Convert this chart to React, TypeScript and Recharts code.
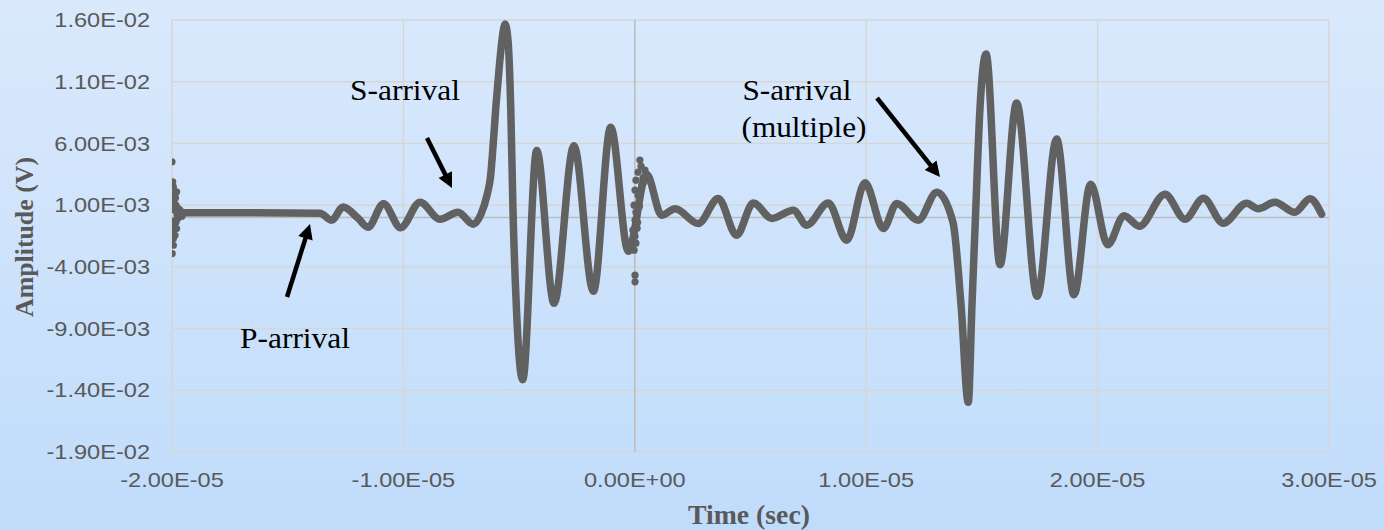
import React from 'react';
import { ComposedChart, Line, Scatter, XAxis, YAxis, CartesianGrid, ReferenceLine } from 'recharts';

// Main waveform (time in seconds, amplitude in volts)
const waveTime = [
  -19.7e-6, -16.63e-6, -13.6e-6, -13.1e-6, -12.61e-6, -11.96e-6, -11.53e-6, -10.86e-6, -10.12e-6, -9.28e-6,
  -8.42e-6, -7.64e-6, -6.99e-6, -6.646e-6, -6.387e-6, -6.236e-6, -6.106e-6, -5.998e-6, -5.869e-6, -5.739e-6,
  -5.61e-6, -5.48e-6, -5.359e-6, -5.264e-6, -5.112e-6, -4.844e-6, -4.24e-6, -3.49e-6, -2.63e-6, -1.79e-6,
  -1.04e-6, -0.28e-6, 0.51e-6, 1.16e-6, 1.74e-6, 2.74e-6, 3.61e-6, 4.4e-6, 5.12e-6, 5.92e-6,
  6.85e-6, 7.43e-6, 8.36e-6, 9.16e-6, 9.95e-6, 10.74e-6, 11.32e-6, 12.25e-6, 13.05e-6, 13.75e-6,
  14.1e-6, 14.41e-6, 14.57e-6, 14.74e-6, 14.92e-6, 15.18e-6, 15.78e-6, 16.5e-6, 17.39e-6, 18.23e-6,
  18.98e-6, 19.7e-6, 20.44e-6, 21.14e-6, 21.8e-6, 22.91e-6, 23.78e-6, 24.57e-6, 25.43e-6, 26.44e-6,
  26.94e-6, 27.66e-6, 28.52e-6, 29.18e-6, 29.68e-6,
];
const waveAmp = [
  0.39e-3, 0.39e-3, 0.35e-3, -0.22e-3, 0.84e-3, -0.06e-3, -0.79e-3, 1.12e-3, -0.83e-3, 1.24e-3,
  -0.14e-3, 0.43e-3, -0.54e-3, 0.27e-3, 1.81e-3, 3.29e-3, 6.27e-3, 9.11e-3, 11.94e-3, 14.38e-3,
  15.68e-3, 14.38e-3, 8.7e-3, 0.59e-3, -7.52e-3, -13.15e-3, 5.42e-3, -6.95e-3, 5.82e-3, -5.98e-3,
  7.32e-3, -2.73e-3, 3.51e-3, 0.19e-3, 0.71e-3, -0.49e-3, 1.54e-3, -1.44e-3, 1.18e-3, -0.08e-3,
  0.59e-3, -0.62e-3, 1.18e-3, -1.84e-3, 2.81e-3, -0.89e-3, 1.14e-3, -0.22e-3, 2.05e-3, -0.38e-3,
  -7.11e-3, -14.97e-3, -7.19e-3, 0.92e-3, 8.96e-3, 13.24e-3, -3.83e-3, 9.27e-3, -6.38e-3, 6.35e-3,
  -6.26e-3, 2.7e-3, -2.21e-3, 0.15e-3, -0.71e-3, 1.89e-3, -0.14e-3, 1.56e-3, -0.46e-3, 1.16e-3,
  0.71e-3, 1.24e-3, 0.43e-3, 1.52e-3, 0.27e-3,
];

// Scattered noisy samples at the start of the record
const noiseStartTime = [
  -20.0e-6, -19.97e-6, -19.94e-6, -19.87e-6, -19.8e-6, -19.99e-6, -19.94e-6, -19.87e-6, -19.91e-6, -19.91e-6,
  -19.83e-6, -19.83e-6, -19.78e-6, -19.74e-6, -19.74e-6, -19.65e-6, -19.57e-6, -19.96e-6, -19.94e-6, -19.91e-6,
  -19.96e-6, -19.98e-6, -19.85e-6, -19.8e-6,
];
const noiseStartAmp = [
  4.51e-3, 2.89e-3, 2.48e-3, 1.95e-3, 2.08e-3, -2.92e-3, -1.7e-3, -1.44e-3, 1.4e-3, -0.62e-3,
  1.0e-3, -0.38e-3, 0.19e-3, 0.75e-3, -0.06e-3, 0.59e-3, 0.11e-3, -1.03e-3, -2.25e-3, 0.59e-3,
  0.9e-3, -0.3e-3, 1.6e-3, -0.9e-3,
];

// Scattered noisy samples around t = 0
const noiseZeroTime = [
  0.22e-6, 0.27e-6, 0.14e-6, 0.05e-6, 0.35e-6, 0.01e-6, 0.14e-6, -0.03e-6, 0.05e-6, 0.01e-6,
  0.1e-6, 0.01e-6, 0.05e-6, -0.03e-6, 0.01e-6, 0.01e-6, 0.44e-6, 0.57e-6, -0.12e-6, -0.08e-6,
  0.3e-6, 0.2e-6, 0.12e-6, 0.4e-6,
];
const noiseZeroAmp = [
  4.65e-3, 4.16e-3, 3.67e-3, 3.02e-3, 3.19e-3, 2.21e-3, 1.81e-3, 1.0e-3, 0.43e-3, -0.22e-3,
  -0.87e-3, -1.52e-3, -2.08e-3, -2.65e-3, -4.67e-3, -5.21e-3, 3.84e-3, 3.35e-3, -1.84e-3, -1.03e-3,
  2.6e-3, 0.9e-3, -0.4e-3, 2.9e-3,
];

const xTicks = [-2e-5, -1e-5, 0, 1e-5, 2e-5, 3e-5];
const xTickLabels = ['-2.00E-05', '-1.00E-05', '0.00E+00', '1.00E-05', '2.00E-05', '3.00E-05'];
const yTicks = [-0.019, -0.014, -0.009, -0.004, 0.001, 0.006, 0.011, 0.016];
const yTickLabels = ['-1.90E-02', '-1.40E-02', '-9.00E-03', '-4.00E-03', '1.00E-03', '6.00E-03', '1.10E-02', '1.60E-02'];

const wave = waveTime.map((t, i) => ({ t, v: waveAmp[i] }));
const noiseStart = noiseStartTime.map((t, i) => ({ t, v: noiseStartAmp[i] }));
const noiseZero = noiseZeroTime.map((t, i) => ({ t, v: noiseZeroAmp[i] }));

const SERIES = '#616161';
const TICK = '#595959';
const SANS = 'Liberation Sans, Arial, sans-serif';
const SERIF = 'Liberation Serif, Times New Roman, serif';

const findLabel = (ticks: number[], labels: string[], v: number) => {
  const i = ticks.findIndex((t) => Math.abs(t - v) < 1e-12);
  return i >= 0 ? labels[i] : '';
};

const YTick = (props: any) => {
  const { x, y, payload } = props;
  return (
    <text transform={`translate(${x},${y}) scale(1.18,1)`} textAnchor="end" dy="0.36em" fontSize={20} fill={TICK} fontFamily={SANS}>
      {findLabel(yTicks, yTickLabels, payload.value)}
    </text>
  );
};

const XTick = (props: any) => {
  const { x, y, payload } = props;
  return (
    <text transform={`translate(${x},${y}) scale(1.18,1)`} textAnchor="middle" dy="0.71em" fontSize={20} fill={TICK} fontFamily={SANS}>
      {findLabel(xTicks, xTickLabels, payload.value)}
    </text>
  );
};

const dot = (p: any) => <circle cx={p.cx} cy={p.cy} r={3.6} fill={SERIES} />;

const Arrow = ({ x1, y1, x2, y2 }: { x1: number; y1: number; x2: number; y2: number }) => {
  const dx = x2 - x1;
  const dy = y2 - y1;
  const L = Math.hypot(dx, dy);
  const ux = dx / L;
  const uy = dy / L;
  const hl = 15;
  const hw = 7.5;
  const bx = x2 - ux * hl;
  const by = y2 - uy * hl;
  const px = -uy;
  const py = ux;
  return (
    <g>
      <line x1={x1} y1={y1} x2={bx + ux * 2} y2={by + uy * 2} stroke="#000" strokeWidth={4.5} />
      <polygon points={`${x2},${y2} ${bx + px * hw},${by + py * hw} ${bx - px * hw},${by - py * hw}`} fill="#000" />
    </g>
  );
};

export default function App() {
  return (
    <div
      style={{
        position: 'relative',
        width: 1384,
        height: 530,
        background: 'linear-gradient(180deg, #dae9fc 0%, #c0dcfb 100%)',
        overflow: 'hidden',
      }}
    >
      <style>{'body{margin:0}'}</style>
      <ComposedChart width={1384} height={530} margin={{ top: 20, right: 55, bottom: 38, left: 0 }}>
        <CartesianGrid stroke="#d6d6d6" strokeWidth={1.5} />
        <XAxis
          type="number"
          dataKey="t"
          domain={[-2e-5, 3e-5]}
          ticks={xTicks}
          allowDataOverflow
          axisLine={false}
          tickLine={false}
          tickSize={6}
          tickMargin={15}
          height={40}
          tick={<XTick />}
        />
        <YAxis
          type="number"
          domain={[-0.019, 0.016]}
          ticks={yTicks}
          allowDataOverflow
          axisLine={false}
          tickLine={false}
          tickSize={6}
          tickMargin={16}
          width={172}
          tick={<YTick />}
        />
        <ReferenceLine y={0} stroke="#bdbdbd" strokeWidth={1.5} />
        <ReferenceLine x={0} stroke="#bdbdbd" strokeWidth={1.5} />
        <Line
          data={wave}
          dataKey="v"
          type="monotone"
          stroke={SERIES}
          strokeWidth={7.5}
          strokeLinecap="round"
          strokeLinejoin="round"
          dot={false}
          activeDot={false}
          isAnimationActive={false}
        />
        <Scatter data={noiseStart} dataKey="v" fill={SERIES} shape={dot} isAnimationActive={false} />
        <Scatter data={noiseZero} dataKey="v" fill={SERIES} shape={dot} isAnimationActive={false} />
      </ComposedChart>
      <svg width={1384} height={530} style={{ position: 'absolute', left: 0, top: 0, pointerEvents: 'none' }}>
        <text
          transform="translate(33,237) rotate(-90)"
          textAnchor="middle"
          fontSize={26}
          fontWeight="bold"
          fill={TICK}
          fontFamily={SERIF}
          textLength={160}
          lengthAdjust="spacingAndGlyphs"
        >
          Amplitude (V)
        </text>
        <text x={749} y={524} textAnchor="middle" fontSize={27} fontWeight="bold" fill={TICK} fontFamily={SERIF} textLength={122} lengthAdjust="spacingAndGlyphs">
          Time (sec)
        </text>
        <text x={350} y={100} fontSize={29} fill="#000" fontFamily={SERIF} textLength={110} lengthAdjust="spacingAndGlyphs">
          S-arrival
        </text>
        <text x={240} y={348} fontSize={29} fill="#000" fontFamily={SERIF} textLength={110} lengthAdjust="spacingAndGlyphs">
          P-arrival
        </text>
        <text x={742.5} y={99.5} fontSize={29} fill="#000" fontFamily={SERIF} textLength={109} lengthAdjust="spacingAndGlyphs">
          S-arrival
        </text>
        <text x={741.5} y={137} fontSize={29} fill="#000" fontFamily={SERIF} textLength={125} lengthAdjust="spacingAndGlyphs">
          (multiple)
        </text>
        <Arrow x1={427} y1={138} x2={452} y2={188} />
        <Arrow x1={287} y1={297} x2={310} y2={224} />
        <Arrow x1={877} y1={98} x2={940} y2={177} />
      </svg>
    </div>
  );
}
